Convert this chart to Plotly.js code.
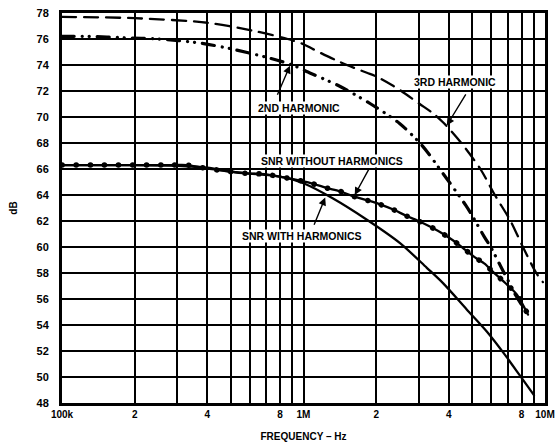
<!DOCTYPE html>
<html><head><meta charset="utf-8">
<script src="https://cdn.plot.ly/plotly-3.0.1.min.js"></script>
<style>
html,body{margin:0;padding:0;background:#fff;}
#chart{width:557px;height:446px;}
.js-line{stroke-linecap:round;}
</style></head><body><div id="chart"></div>
<script>
// ---- data ----
const freq3 = [1e5, 2e5, 4e5, 6.3e5, 8.6e5, 1e6, 1.1e6, 1.35e6, 1.56e6, 1.83e6, 2.01e6, 2.35e6, 2.54e6, 3.03e6, 3.43e6, 3.78e6, 4.5e6, 5.4e6, 6.2e6, 7.2e6, 8.1e6, 9.2e6, 9.8e6];
const harm3 = [77.7, 77.6, 77.25, 76.6, 76.0, 75.6, 75.2, 74.4, 73.9, 73.4, 73.1, 72.4, 72.0, 71.0, 70.3, 69.6, 68.0, 66.0, 64.0, 62.0, 60.0, 58.0, 57.3];

const freq2 = [1e5, 1.3e5, 1.8e5, 2.5e5, 3.7e5, 5e5, 7e5, 9e5, 1.03e6, 1.4e6, 1.9e6, 2.5e6, 3.1e6, 3.8e6, 4.7e6, 5.0e6, 5.6e6, 6.0e6, 6.6e6, 7.0e6, 7.5e6, 8.5e6];
const harm2 = [76.2, 76.2, 76.1, 76.0, 75.7, 75.25, 74.6, 74.0, 73.5, 72.4, 71.0, 69.5, 67.8, 65.6, 63.2, 62.4, 60.8, 59.9, 58.4, 57.5, 56.4, 54.8];

const freqWithout = [1e5, 1.5e5, 2e5, 2.8e5, 3.3e5, 3.8e5, 4.5e5, 5.2e5, 5.9e5, 6.9e5, 8.6e5, 1e6, 1.08e6, 1.24e6, 1.41e6, 1.58e6, 1.83e6, 2.06e6, 2.34e6, 2.66e6, 2.99e6, 3.4e6, 3.79e6, 4.24e6, 4.66e6, 5.13e6, 5.64e6, 5.92e6, 6.83e6, 7.64e6, 8.5e6];
const snrWithout = [66.3, 66.3, 66.3, 66.3, 66.3, 66.1, 65.9, 65.75, 65.65, 65.6, 65.3, 65.05, 64.9, 64.55, 64.3, 63.95, 63.6, 63.3, 62.9, 62.4, 62.0, 61.5, 61.0, 60.4, 59.8, 59.2, 58.7, 58.3, 57.25, 56.35, 54.8];

const freqWith = [1e5, 2e5, 3e5, 4e5, 5e5, 6e5, 7e5, 8.6e5, 1e6, 1.32e6, 1.83e6, 2.51e6, 3.24e6, 3.79e6, 4.74e6, 5.74e6, 6.83e6, 7.88e6, 9.0e6];
const snrWith = [66.3, 66.3, 66.25, 66.1, 65.8, 65.65, 65.55, 65.3, 64.9, 63.75, 62.1, 60.3, 58.4, 57.2, 55.2, 53.5, 51.7, 50.1, 48.6];

const xTickVals = [1e5,2e5,3e5,4e5,5e5,6e5,7e5,8e5,9e5,1e6,2e6,3e6,4e6,5e6,6e6,7e6,8e6,9e6,1e7];
const xTickText = ['100k','2','','4','','','','8','','1M','2','','4','','','','8','','10M'];
const yTickVals = [48,50,52,54,56,58,60,62,64,66,68,70,72,74,76,78];

const labels = {
  h3: '3RD HARMONIC', h2: '2ND HARMONIC',
  without: 'SNR WITHOUT HARMONICS', with: 'SNR WITH HARMONICS'
};

// ---- chart ----
const FONT = 'Liberation Sans, Arial, Helvetica, sans-serif';
const L = Math.log10;

const traces = [
  {x: freq3, y: harm3, mode: 'lines', line: {color: '#000', width: 2.3, dash: '14px,8px', shape: 'spline', smoothing: 0.8}, hoverinfo: 'skip'},
  {x: freq2, y: harm2, mode: 'lines', line: {color: '#000', width: 3.2, dash: '12px,8px,0.1px,7px,0.1px,8px', shape: 'spline', smoothing: 0.8}, hoverinfo: 'skip'},
  {x: freqWith, y: snrWith, mode: 'lines', line: {color: '#000', width: 2.3, shape: 'spline', smoothing: 0.8}, hoverinfo: 'skip'},
  {x: freqWithout, y: snrWithout, mode: 'lines', line: {color: '#000', width: 2.3, shape: 'spline', smoothing: 0.8}, hoverinfo: 'skip'},
  {x: freqWithout, y: snrWithout, mode: 'lines', line: {color: '#000', width: 5.5, dash: '0.1px,14px', shape: 'spline', smoothing: 0.8}, hoverinfo: 'skip'}
];

function arrow(tx, ty, hx, hy) {
  return {x: L(hx), y: hy, ax: L(tx), ay: ty, axref: 'x', ayref: 'y', xref: 'x', yref: 'y',
    text: '', showarrow: true, arrowhead: 2, arrowsize: 1.1, arrowwidth: 1.4, arrowcolor: '#000', standoff: 0, startstandoff: 0};
}
function label(t, fx, fy) {
  return {x: L(fx), y: fy, xref: 'x', yref: 'y', text: t, showarrow: false,
    font: {family: FONT, size: 10.5, color: '#000', weight: 'bold'}, bgcolor: '#fff', borderpad: 0};
}

const annotations = [
  label(labels.h3, 4.24e6, 72.73),
  label(labels.h2, 9.62e5, 70.73),
  label(labels.without, 1.318e6, 66.58),
  label(labels.with, 9.82e5, 60.88),
  arrow(4.74e6, 71.85, 3.92e6, 69.35),
  arrow(7.75e5, 71.6, 8.79e5, 73.95),
  arrow(1.88e6, 66.1, 1.63e6, 64.0),
  arrow(1.1e6, 61.6, 1.23e6, 63.8)
];

const layout = {
  width: 557, height: 446,
  margin: {l: 62, r: 12, t: 13, b: 43},
  paper_bgcolor: '#fff', plot_bgcolor: '#fff',
  showlegend: false,
  font: {family: FONT, color: '#000', size: 11},
  xaxis: {
    type: 'log', range: [5, 7], tickvals: xTickVals, ticktext: xTickText,
    showgrid: true, gridcolor: '#000', gridwidth: 2,
    showline: true, linecolor: '#000', linewidth: 3, mirror: true,
    ticks: '', zeroline: false,
    tickfont: {family: FONT, size: 10, color: '#000', weight: 'bold'},
    title: {text: 'FREQUENCY – Hz', font: {family: FONT, size: 10, color: '#000', weight: 'bold'}, standoff: 14}
  },
  yaxis: {
    range: [48, 78], tickvals: yTickVals,
    showgrid: true, gridcolor: '#000', gridwidth: 2,
    showline: true, linecolor: '#000', linewidth: 3, mirror: true,
    ticks: '', zeroline: false, ticklabelstandoff: 8,
    tickfont: {family: FONT, size: 11, color: '#000', weight: 'bold'},
    title: {text: 'dB', font: {family: FONT, size: 10, color: '#000', weight: 'bold'}, standoff: 18}
  },
  annotations: annotations
};

Plotly.newPlot('chart', traces, layout, {staticPlot: true, displayModeBar: false});
</script>
</body></html>
